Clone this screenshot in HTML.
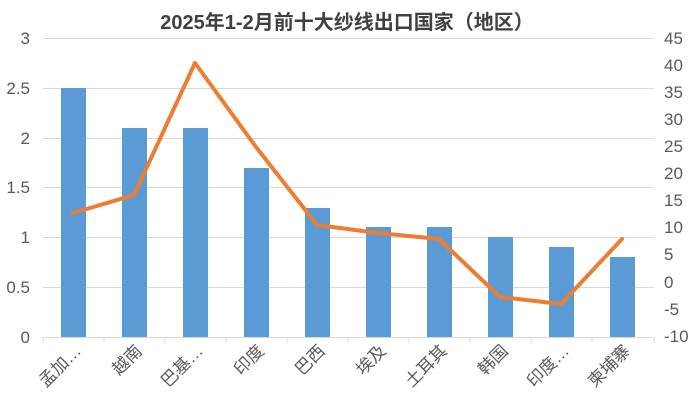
<!DOCTYPE html>
<html><head><meta charset="utf-8"><style>
body{margin:0;background:#fff;}
svg text{font-family:"Liberation Sans","Noto Sans CJK SC",sans-serif;fill:#595959;}
</style></head><body>
<svg width="694" height="415" xmlns="http://www.w3.org/2000/svg">
<text x="347" y="29" text-anchor="middle" font-size="20" font-weight="bold" style="fill:#404040">2025年1-2月前十大纱线出口国家（地区）</text>
<g stroke="#d9d9d9" stroke-width="1">
<line x1="43" y1="38.5" x2="654" y2="38.5"/>
<line x1="43" y1="88.5" x2="654" y2="88.5"/>
<line x1="43" y1="138.5" x2="654" y2="138.5"/>
<line x1="43" y1="187.5" x2="654" y2="187.5"/>
<line x1="43" y1="237.5" x2="654" y2="237.5"/>
<line x1="43" y1="287.5" x2="654" y2="287.5"/>
<line x1="43" y1="337.5" x2="654" y2="337.5"/>
<line x1="43" y1="337" x2="43" y2="343"/><line x1="104" y1="337" x2="104" y2="343"/><line x1="165" y1="337" x2="165" y2="343"/><line x1="226" y1="337" x2="226" y2="343"/><line x1="287" y1="337" x2="287" y2="343"/><line x1="348" y1="337" x2="348" y2="343"/><line x1="409" y1="337" x2="409" y2="343"/><line x1="470" y1="337" x2="470" y2="343"/><line x1="531" y1="337" x2="531" y2="343"/><line x1="592" y1="337" x2="592" y2="343"/><line x1="654" y1="337" x2="654" y2="343"/>
</g>
<g font-size="17" text-anchor="end">
<text x="30" y="44">3</text><text x="30" y="94">2.5</text><text x="30" y="144">2</text><text x="30" y="193">1.5</text><text x="30" y="243">1</text><text x="30" y="293">0.5</text><text x="30" y="343">0</text>
</g>
<g font-size="17" text-anchor="start">
<text x="664" y="44">45</text><text x="664" y="71">40</text><text x="664" y="98">35</text><text x="664" y="125">30</text><text x="664" y="152">25</text><text x="664" y="179">20</text><text x="664" y="206">15</text><text x="664" y="233">10</text><text x="664" y="260">5</text><text x="664" y="288">0</text><text x="664" y="315">-5</text><text x="664" y="342">-10</text>
</g>
<g fill="#5b9bd5">
<rect x="61" y="88" width="25" height="249"/>
<rect x="122" y="128" width="25" height="209"/>
<rect x="183" y="128" width="25" height="209"/>
<rect x="244" y="168" width="25" height="169"/>
<rect x="305" y="208" width="25" height="129"/>
<rect x="366" y="227" width="25" height="110"/>
<rect x="427" y="227" width="25" height="110"/>
<rect x="488" y="237" width="25" height="100"/>
<rect x="549" y="247" width="25" height="90"/>
<rect x="610" y="257" width="25" height="80"/>
</g>
<polyline fill="none" stroke="#ed7d31" stroke-width="4" stroke-linejoin="round" stroke-linecap="round" points="73,213 134,195 195,63 256,147 317,225 378,233 439,239 500,297 561,304 622,239"/>
<g font-size="17" text-anchor="end">
<text transform="translate(82,352) rotate(-45)">孟加…</text>
<text transform="translate(143,352) rotate(-45)">越南</text>
<text transform="translate(204,352) rotate(-45)">巴基…</text>
<text transform="translate(265,352) rotate(-45)">印度</text>
<text transform="translate(326,352) rotate(-45)">巴西</text>
<text transform="translate(387,352) rotate(-45)">埃及</text>
<text transform="translate(448,352) rotate(-45)">土耳其</text>
<text transform="translate(509,352) rotate(-45)">韩国</text>
<text transform="translate(570,352) rotate(-45)">印度…</text>
<text transform="translate(631,352) rotate(-45)">柬埔寨</text>
</g>
</svg>
</body></html>
